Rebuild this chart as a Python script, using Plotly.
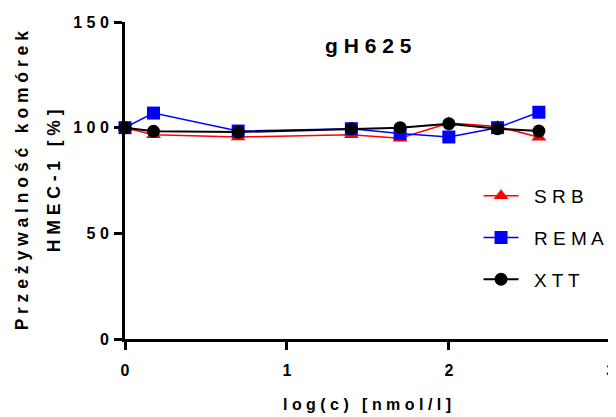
import plotly.graph_objects as go

# Data
log_c = [0, 0.176, 0.699, 1.398, 1.699, 2.0, 2.301, 2.556]
srb = [100, 96.7, 95.6, 96.7, 95.0, 102.2, 100.6, 95.5]
rema = [100, 106.9, 98.4, 99.5, 97.2, 95.6, 100.0, 107.3]
xtt = [100, 98.3, 97.9, 99.5, 100.0, 101.9, 99.5, 98.4]

x_ticks = [0, 1, 2, 3]
y_ticks = [0, 50, 100, 150]
title_text = "gH625"
x_title = "log(c) [nmol/l]"
y_title_1 = "Przeżywalność komórek"
y_title_2 = "HMEC-1 [%]"

FONT = "Arial, Liberation Sans, sans-serif"


def sp(s):
    return " ".join(list(s))


fig = go.Figure()
series = [
    ("SRB", srb, "#ff0000", "triangle-up", 1.5),
    ("REMA", rema, "#0000ff", "square", 1.5),
    ("XTT", xtt, "#000000", "circle", 2),
]
for name, vals, col, sym, lw in series:
    fig.add_trace(go.Scatter(
        x=log_c, y=vals, mode="lines+markers", name="  " + sp(name),
        legendgroup=name,
        line=dict(color=col, width=lw),
        marker=dict(symbol=sym, size=13, color=col, line=dict(width=0)),
        cliponaxis=False,
    ))

fig.update_layout(
    width=616, height=417,
    margin=dict(l=117, r=10, t=14, b=86, autoexpand=False),
    paper_bgcolor="white", plot_bgcolor="white",
    font=dict(family=FONT, color="black"),
    showlegend=True,
    legend=dict(
        x=0.723, y=0.511, xanchor="left", yanchor="top",
        font=dict(size=19, family=FONT, color="black"),
        tracegroupgap=14, itemwidth=35,
        bgcolor="rgba(0,0,0,0)",
    ),
    xaxis=dict(
        range=[0, 3.02], tickvals=x_ticks, ticktext=[sp(str(t)) for t in x_ticks],
        showgrid=False, zeroline=False, showline=True, linecolor="black", linewidth=3,
        ticks="outside", tickwidth=3, ticklen=8, tickcolor="black",
        tickfont=dict(size=16, family=FONT, weight="bold"),
        ticklabelstandoff=7, ticklabeloverflow="allow",
        automargin=False,
    ),
    yaxis=dict(
        range=[0, 150], tickvals=y_ticks, ticktext=[sp(str(t)) for t in y_ticks],
        showgrid=False, zeroline=False, showline=True, linecolor="black", linewidth=3,
        ticks="outside", tickwidth=3, ticklen=8, tickcolor="black",
        tickfont=dict(size=16, family=FONT, weight="bold"),
        ticklabelstandoff=2, ticklabeloverflow="allow",
        automargin=False,
    ),
)

fig.add_annotation(
    x=0.497, y=0.927, xref="paper", yref="paper", yanchor="middle",
    text="<b>" + sp(title_text) + "</b>", showarrow=False,
    font=dict(size=21, family=FONT, color="black"),
)
fig.add_annotation(
    x=0.495, y=-0.208, xref="paper", yref="paper", yanchor="middle",
    text="<b>" + sp(x_title) + "</b>", showarrow=False,
    font=dict(size=16, family=FONT, color="black"),
)
for xp, txt in [(-0.211, y_title_1), (-0.1456, y_title_2)]:
    fig.add_annotation(
        x=xp, y=0.5, xref="paper", yref="paper", textangle=-90,
        xanchor="center", yanchor="middle",
        text="<b>" + sp(txt) + "</b>", showarrow=False,
        font=dict(size=17.5, family=FONT, color="black"),
    )

fig.write_html("out.html")
